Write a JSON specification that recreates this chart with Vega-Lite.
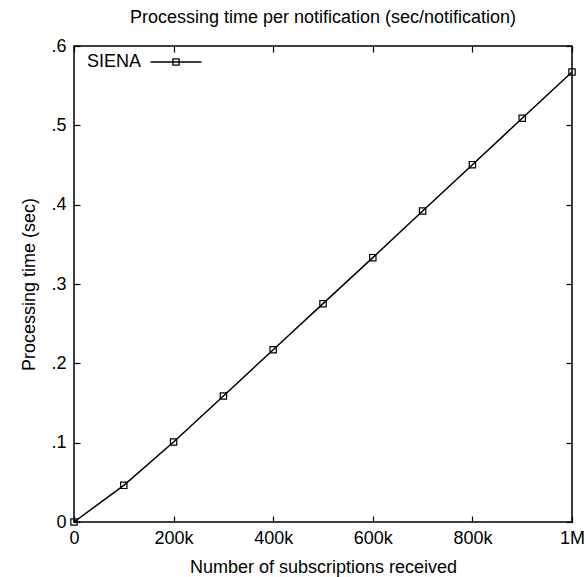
{
  "$schema": "https://vega.github.io/schema/vega-lite/v6.json",
  "width": 498,
  "height": 476,
  "autosize": "none",
  "padding": {"left": 74, "top": 46, "right": 14, "bottom": 55},
  "background": "white",
  "title": {
    "text": "Processing time per notification (sec/notification)",
    "fontSize": 18,
    "font": "Liberation Sans",
    "fontWeight": "normal",
    "baseline": "alphabetic",
    "offset": -5,
    "anchor": "middle",
    "color": "black"
  },
  "config": {
    "view": {"stroke": "black", "strokeWidth": 1.5},
    "font": "Liberation Sans",
    "axis": {
      "domain": false,
      "grid": false,
      "tickColor": "black",
      "tickWidth": 1.2,
      "tickSize": -6,
      "labelFont": "Liberation Sans",
      "labelFontSize": 18,
      "labelColor": "black",
      "labelFlush": false,
      "titleFont": "Liberation Sans",
      "titleFontSize": 18,
      "titleFontWeight": "normal",
      "titleColor": "black"
    }
  },
  "data": {
    "values": [
      {"subs": 0, "time": 0.0, "series": "SIENA"},
      {"subs": 100000, "time": 0.0462, "series": "SIENA"},
      {"subs": 200000, "time": 0.1008, "series": "SIENA"},
      {"subs": 300000, "time": 0.1588, "series": "SIENA"},
      {"subs": 400000, "time": 0.2172, "series": "SIENA"},
      {"subs": 500000, "time": 0.2752, "series": "SIENA"},
      {"subs": 600000, "time": 0.3332, "series": "SIENA"},
      {"subs": 700000, "time": 0.392, "series": "SIENA"},
      {"subs": 800000, "time": 0.4504, "series": "SIENA"},
      {"subs": 900000, "time": 0.5089, "series": "SIENA"},
      {"subs": 1000000, "time": 0.5672, "series": "SIENA"}
    ]
  },
  "resolve": {"axis": {"x": "independent", "y": "independent"}},
  "layer": [
    {
      "mark": {"type": "line", "strokeWidth": 1.5},
      "encoding": {
        "x": {
          "field": "subs",
          "type": "quantitative",
          "scale": {"domain": [0, 1000000], "nice": false},
          "axis": {
            "orient": "bottom",
            "values": [0, 200000, 400000, 600000, 800000, 1000000],
            "labelExpr": "datum.value == 0 ? '0' : datum.value >= 1000000 ? '1M' : (datum.value / 1000) + 'k'",
            "labelPadding": 13,
            "title": "Number of subscriptions received",
            "titlePadding": 11
          }
        },
        "y": {
          "field": "time",
          "type": "quantitative",
          "scale": {"domain": [0, 0.6], "nice": false},
          "axis": {
            "orient": "left",
            "values": [0, 0.1, 0.2, 0.3, 0.4, 0.5, 0.6],
            "labelExpr": "datum.value == 0 ? '0' : replace(format(datum.value, '.1f'), '0.', '.')",
            "labelPadding": 14,
            "title": "Processing time (sec)",
            "titlePadding": 12
          }
        },
        "color": {
          "field": "series",
          "type": "nominal",
          "scale": {"range": ["black"]},
          "legend": {
            "title": null,
            "orient": "none",
            "legendX": 13,
            "legendY": -10.5,
            "padding": 0,
            "labelFont": "Liberation Sans",
            "labelFontSize": 18,
            "labelColor": "black",
            "symbolType": "M-1,0H1M-0.12,-0.12H0.12V0.12H-0.12Z",
            "symbolSize": 2601,
            "symbolStrokeColor": "black",
            "symbolStrokeWidth": 1.3,
            "symbolFillColor": "transparent",
            "encode": {
              "labels": {"update": {"x": {"value": 0}}},
              "symbols": {"update": {"x": {"value": 89}}}
            }
          }
        }
      }
    },
    {
      "mark": {"type": "point", "shape": "square", "filled": false, "size": 40, "strokeWidth": 1.2, "color": "black", "opacity": 1},
      "encoding": {
        "x": {
          "field": "subs",
          "type": "quantitative",
          "axis": {
            "orient": "top",
            "values": [0, 200000, 400000, 600000, 800000, 1000000],
            "labels": false,
            "title": null
          }
        },
        "y": {
          "field": "time",
          "type": "quantitative",
          "axis": {
            "orient": "right",
            "values": [0, 0.1, 0.2, 0.3, 0.4, 0.5, 0.6],
            "labels": false,
            "title": null
          }
        }
      }
    }
  ]
}
